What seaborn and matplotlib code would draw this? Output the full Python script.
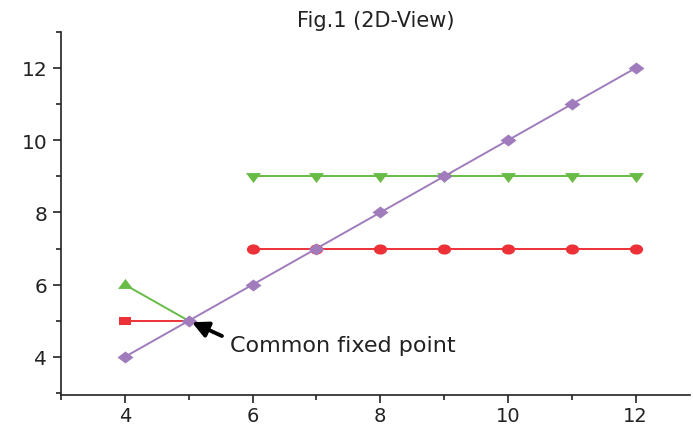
import numpy as np
import pandas as pd
import matplotlib
matplotlib.use("Agg")
import matplotlib.pyplot as plt
import seaborn as sns
from matplotlib.ticker import MultipleLocator

# ---- data ----
purple_x = [4, 5, 6, 7, 8, 9, 10, 11, 12]
purple_y = [4, 5, 6, 7, 8, 9, 10, 11, 12]

red_start_x = [4, 5]
red_start_y = [5, 5]
red_x = [6, 7, 8, 9, 10, 11, 12]
red_y = [7, 7, 7, 7, 7, 7, 7]

green_start_x = [4, 5]
green_start_y = [6, 5]
green_x = [6, 7, 8, 9, 10, 11, 12]
green_y = [9, 9, 9, 9, 9, 9, 9]

title = "Fig.1 (2D-View)"
note = "Common fixed point"
x_ticks = [4, 6, 8, 10, 12]
y_ticks = [4, 6, 8, 10, 12]

# ---- style ----
sns.set_theme(style="ticks")
plt.rcParams['font.family'] = ['DejaVu Sans']

RED = "#EC3238"
GREEN = "#68BB45"
PURPLE = "#A07CBC"

# horizontally stretched marker shapes
t = np.linspace(0, 2 * np.pi, 40)
ellipse = list(zip(1.3 * np.cos(t), np.sin(t)))
diamond = [(0, 1), (1.33, 0), (0, -1), (-1.33, 0), (0, 1)]
tri_down = [(-1.2, 0.55), (1.2, 0.55), (0, -1.05), (-1.2, 0.55)]
tri_up = [(-1.2, -0.55), (1.2, -0.55), (0, 1.05), (-1.2, -0.55)]
rect = [(-1.5, -1), (1.5, -1), (1.5, 1), (-1.5, 1), (-1.5, -1)]

fig = plt.figure(figsize=(6.93, 4.27), dpi=100)
ax = fig.add_axes([0.088, 0.073, 0.9077, 0.85])

lw = 1.4
sns.lineplot(x=red_start_x, y=red_start_y, ax=ax, color=RED, lw=lw,
             marker=rect, markersize=8.6, markevery=[0], markeredgewidth=0)
sns.lineplot(x=green_start_x, y=green_start_y, ax=ax, color=GREEN, lw=lw,
             marker=tri_up, markersize=10.8, markevery=[0], markeredgewidth=0)
sns.lineplot(x=red_x, y=red_y, ax=ax, color=RED, lw=lw,
             marker=ellipse, markersize=9.5, markeredgewidth=0)
sns.lineplot(x=green_x, y=green_y, ax=ax, color=GREEN, lw=lw,
             marker=tri_down, markersize=10.8, markeredgewidth=0)
sns.lineplot(x=purple_x, y=purple_y, ax=ax, color=PURPLE, lw=lw,
             marker=diamond, markersize=11.5, markeredgewidth=0)

ax.set_xlim(3.0, 12.85)
ax.set_ylim(2.95, 13.0)
ax.set_xticks(x_ticks)
ax.set_yticks(y_ticks)
ax.xaxis.set_minor_locator(MultipleLocator(1))
ax.yaxis.set_minor_locator(MultipleLocator(1))
ax.set_xlabel("")
ax.set_ylabel("")

for s in ["top", "right"]:
    ax.spines[s].set_visible(False)
for s in ["left", "bottom"]:
    ax.spines[s].set_linewidth(1.2)
    ax.spines[s].set_color("#222222")

ax.tick_params(axis="both", which="major", direction="out", length=6, width=1.2,
               color="#222222", labelsize=14.5, labelcolor="#222222", pad=4)
ax.tick_params(axis="x", which="major", labelsize=14, pad=2)
ax.tick_params(axis="both", which="minor", direction="out", length=3.5, width=1.2,
               color="#222222")

ax.set_title(title, fontsize=15, color="#222222", pad=4)

ax.annotate("", xy=(5.05, 4.96), xytext=(5.52, 4.58),
            arrowprops=dict(arrowstyle="-|>,head_length=0.8,head_width=0.4",
                            lw=2.8, color="black", shrinkA=0, shrinkB=0))
ax.text(5.65, 4.33, note, fontsize=16, color="#222222", va="center", ha="left")

fig.savefig("out.png", dpi=100)
